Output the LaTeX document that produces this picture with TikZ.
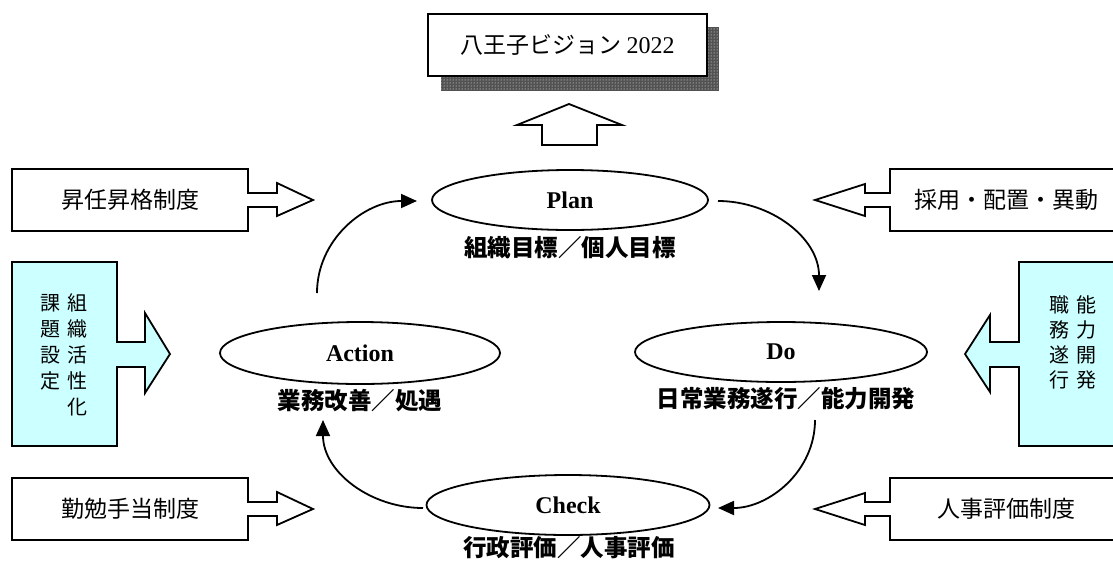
\documentclass[tikz,border=0pt]{standalone}
\usepackage{fontspec}
\usetikzlibrary{shapes.geometric,arrows.meta,patterns}
\newfontfamily\jp{Noto Sans CJK JP}
\newfontfamily\serif{Liberation Serif}
\definecolor{cyanbox}{RGB}{204,255,255}
\begin{document}
\begin{tikzpicture}[x=1pt,y=-1pt,
  every node/.style={inner sep=0pt},
  outl/.style={draw=black,line width=1.8pt,line join=miter},
  ell/.style={ellipse,draw,line width=1.8pt,inner sep=0pt,minimum height=60pt,
    font={\serif\bfseries\fontsize{24}{24}\selectfont}},
  cyc/.style={-{Triangle[length=16pt,width=14pt]},line width=1.8pt},
  boxtxt/.style={font=\jp\fontsize{23}{23}\selectfont},
  lbl/.style={font=\jp\bfseries\fontsize{23.5}{23.5}\selectfont},
  vtxt/.style={font=\jp\fontsize{20}{26}\selectfont,align=center},
  vtxtr/.style={font=\jp\fontsize{20}{25}\selectfont,align=center},
]
\useasboundingbox (0,0) rectangle (1113,563);
\clip (0,0) rectangle (1113,563);

% --- top vision box with shadow
\fill[black!68] (441,27) rectangle (719,91);
\fill[pattern=dots,pattern color=white] (441,27) rectangle (719,91);
\node[draw,line width=1.8pt,fill=white,minimum width=279pt,minimum height=62pt,boxtxt]
  (vision) at (567.5,45) {八王子ビジョン {\serif\fontsize{24}{24}\selectfont 2022}};

% --- hollow up arrow
\draw[outl,fill=white] (542,145) -- (542,125) -- (517,125) -- (569,104) -- (622,125)
  -- (597,125) -- (597,145) -- cycle;

% --- side boxes with hollow arrows (left)
\draw[outl] (12,169) -- (248,169) -- (248,193) -- (277,193) -- (277,183) -- (313,200)
  -- (277,216) -- (277,207) -- (248,207) -- (248,231) -- (12,231) -- cycle;
\node[boxtxt] (shonin) at (130,200) {昇任昇格制度};
\draw[outl] (12,478) -- (248,478) -- (248,502) -- (277,502) -- (277,492) -- (313,509)
  -- (277,525) -- (277,516) -- (248,516) -- (248,540) -- (12,540) -- cycle;
\node[boxtxt] (kinben) at (130,509) {勤勉手当制度};

% --- side boxes with hollow arrows (right)
\draw[outl] (1120,169) -- (890,169) -- (890,193) -- (865,193) -- (865,184) -- (815,200)
  -- (865,216) -- (865,207) -- (890,207) -- (890,231) -- (1120,231);
\node[boxtxt] (saiyo) at (1006,200) {採用・配置・異動};
\draw[outl] (1120,478) -- (890,478) -- (890,502) -- (865,502) -- (865,493) -- (815,509)
  -- (865,525) -- (865,516) -- (890,516) -- (890,540) -- (1120,540);
\node[boxtxt] (jinji) at (1006,509) {人事評価制度};

% --- cyan boxes
\draw[outl,fill=cyanbox] (12,262) -- (117,262) -- (117,342) -- (145,342) -- (145,313)
  -- (170,354) -- (145,393) -- (145,367) -- (117,367) -- (117,446) -- (12,446) -- cycle;
\node[vtxt] (soshiki) at (77,355) {組\\織\\活\\性\\化};
\node[vtxt] (kadai) at (50,342) {課\\題\\設\\定};
\draw[outl,fill=cyanbox] (1120,262) -- (1019,262) -- (1019,342) -- (990,342) -- (990,315)
  -- (965,354) -- (990,392) -- (990,367) -- (1019,367) -- (1019,446) -- (1120,446);
\node[vtxtr] (noryoku) at (1086,342) {能\\力\\開\\発};
\node[vtxtr] (shokumu) at (1059,342) {職\\務\\遂\\行};

% --- PDCA ellipses
\node[ell,minimum width=276pt] (plan) at (570,200) {Plan};
\node[lbl] (planl) at (570,248) {組織目標／個人目標};
\node[ell,minimum width=292pt] (do) at (781,352) {Do};
\node[lbl] (dol) at (786,399) {日常業務遂行／能力開発};
\node[ell,minimum width=280pt,minimum height=62pt] (action) at (360,353) {Action};
\node[lbl] (actionl) at (360,401) {業務改善／処遇};
\node[ell,minimum width=283pt] (check) at (568,505) {Check};
\node[lbl] (checkl) at (569,548) {行政評価／人事評価};

% --- cycle arrows
\coordinate (a1s) at (317,293);
\coordinate (a1e) at (417,201);
\coordinate (a2s) at (718,201);
\coordinate (a2e) at (819,291);
\coordinate (a3s) at (815,420);
\coordinate (a3e) at (718,508);
\coordinate (a4s) at (423,508);
\coordinate (a4e) at (323,420);
\draw[cyc] (a1s) to[out=90,in=180] (a1e);
\draw[cyc] (a2s) to[out=0,in=90] (a2e);
\draw[cyc] (a3s) to[out=-90,in=0] (a3e);
\draw[cyc] (a4s) to[out=180,in=-90] (a4e);
\end{tikzpicture}
\end{document}
